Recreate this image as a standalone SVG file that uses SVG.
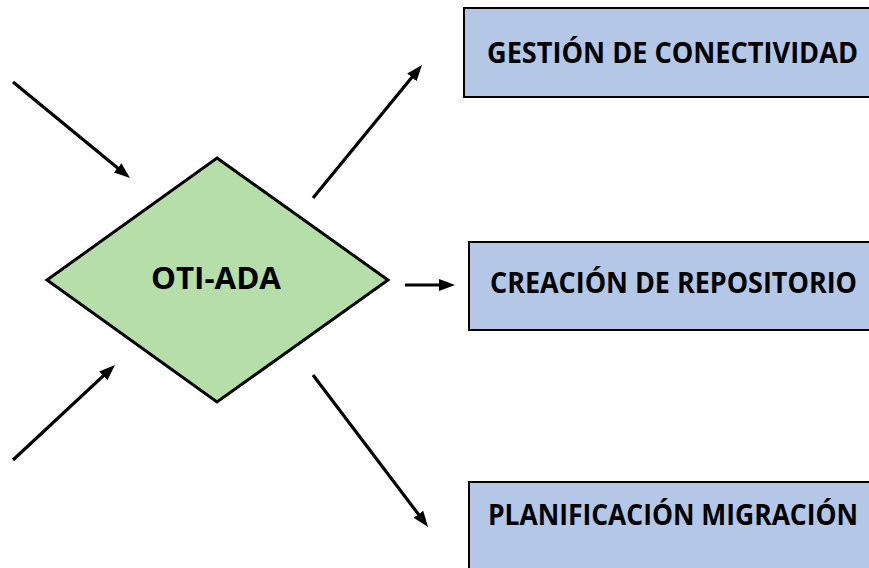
<svg xmlns="http://www.w3.org/2000/svg" width="869" height="568" viewBox="0 0 869 568">
<style>
.box{fill:#B4C7E7;stroke:#000;stroke-width:2}
.dia{fill:#B5DEA8;stroke:#000;stroke-width:3}
.lbl{font-family:"Open Sans","Liberation Sans",sans-serif;font-weight:bold;font-size:28px;fill:#000;text-anchor:middle}
.conn line{stroke:#000;stroke-width:3.2}
</style>
<defs>
<marker id="ah" viewBox="0 0 16 12" refX="4" refY="6" markerWidth="16" markerHeight="12" markerUnits="userSpaceOnUse" orient="auto">
<path d="M0,0 L16,6 L0,12 z" fill="#000"/>
</marker>
</defs>
<rect width="869" height="568" fill="#fff"/>
<g id="n-gestion">
<rect class="box" x="464" y="8" width="420" height="89"/>
<text class="lbl" x="672.5" y="63" textLength="371" lengthAdjust="spacingAndGlyphs">GESTIÓN DE CONECTIVIDAD</text>
</g>
<g id="n-creacion">
<rect class="box" x="469" y="242" width="420" height="88"/>
<text class="lbl" x="673.5" y="293" textLength="367" lengthAdjust="spacingAndGlyphs">CREACIÓN DE REPOSITORIO</text>
</g>
<g id="n-planificacion">
<rect class="box" x="469" y="482" width="420" height="120"/>
<text class="lbl" x="673" y="525" textLength="370" lengthAdjust="spacingAndGlyphs">PLANIFICACIÓN MIGRACIÓN</text>
</g>
<g id="n-oti">
<polygon class="dia" points="217,158 388,280 217,402 47,280"/>
<text class="lbl" x="216" y="289" font-size="30" style="font-size:30px" textLength="130" lengthAdjust="spacingAndGlyphs">OTI-ADA</text>
</g>
<g id="connectors" class="conn">
<line x1="13" y1="82" x2="120.7" y2="170.4" marker-end="url(#ah)"/>
<line x1="13" y1="460" x2="106.2" y2="373.2" marker-end="url(#ah)"/>
<line x1="313" y1="198" x2="414.4" y2="74.3" marker-end="url(#ah)"/>
<line x1="405" y1="285" x2="443" y2="285" marker-end="url(#ah)"/>
<line x1="313" y1="375" x2="420.8" y2="517.4" marker-end="url(#ah)"/>
</g>
</svg>
